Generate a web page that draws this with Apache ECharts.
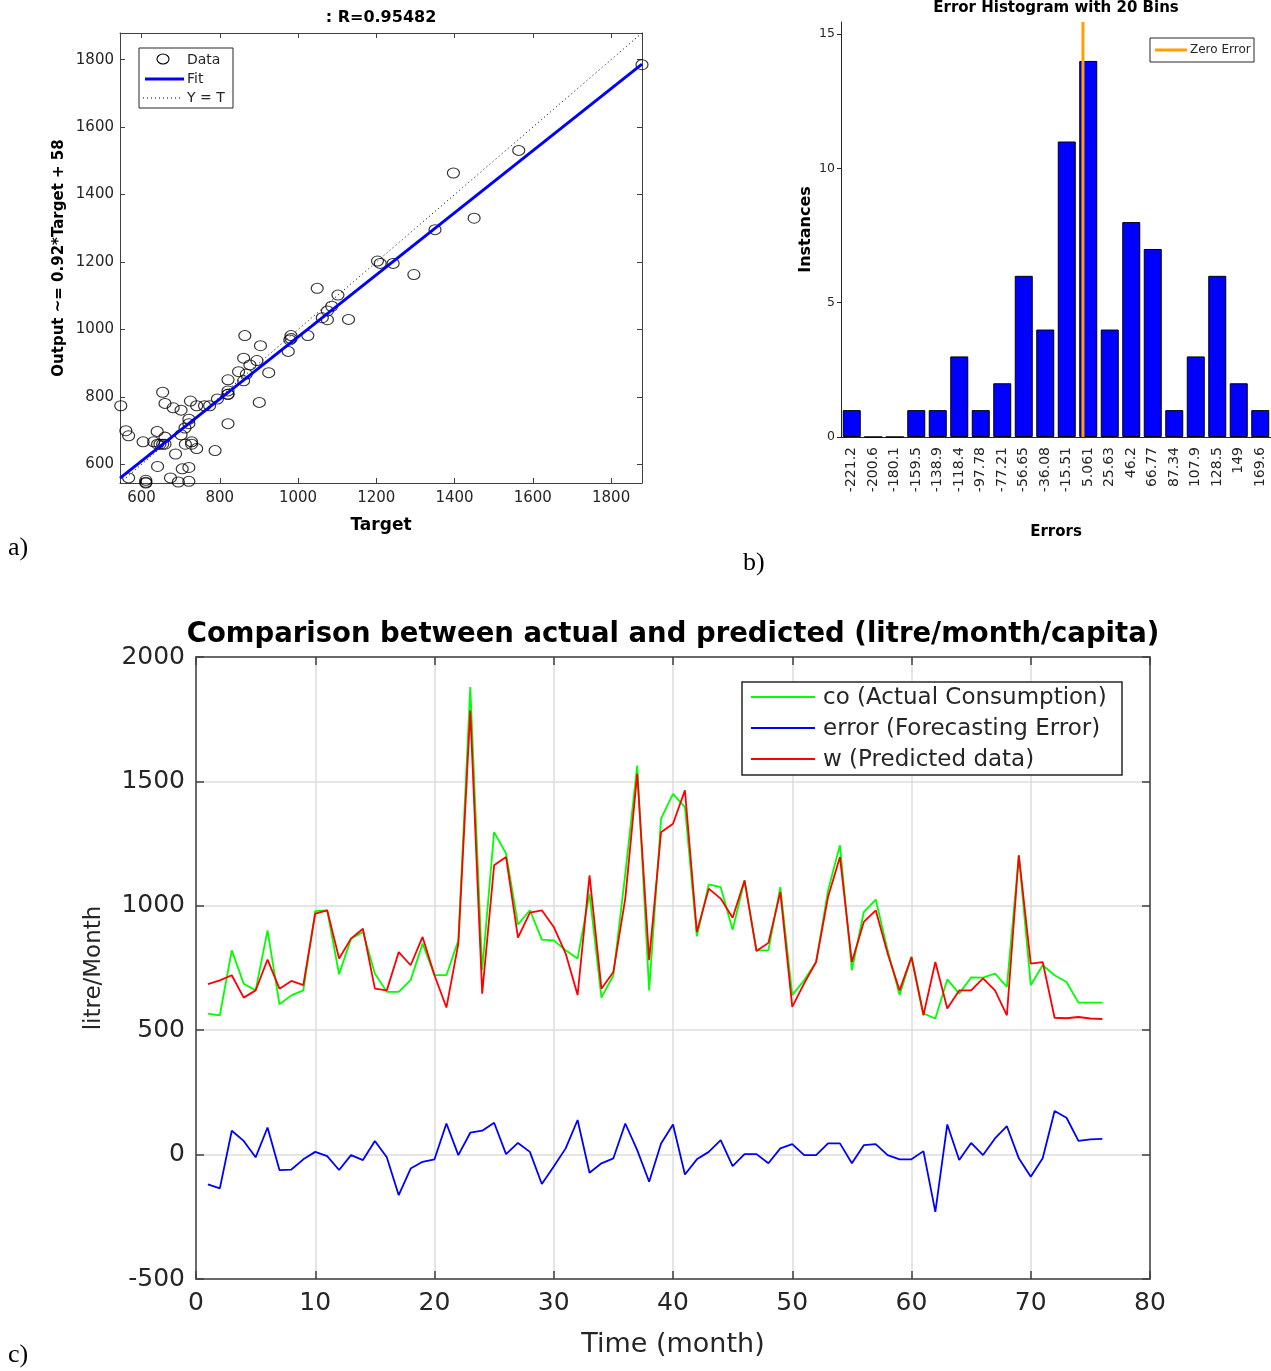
<!DOCTYPE html>
<html>
<head>
<meta charset="utf-8">
<title>Water consumption forecasting</title>
<script src="https://cdn.jsdelivr.net/npm/echarts@6/dist/echarts.min.js"></script>
<style>
  html, body { margin: 0; padding: 0; background: #fff; }
  #chart { width: 1271px; height: 1371px; }
</style>
</head>
<body>
<div id="chart"></div>
<script>
// Actual monthly consumption (litre/month/capita), months 1..76
const actual = [
  567, 560, 821, 687, 660, 901, 604, 640, 660, 979,
  982, 725, 868, 895, 728, 654, 654, 701, 848, 721,
  721, 861, 1879, 741, 1296, 1210, 925, 982, 864, 861,
  821, 788, 1049, 631, 721, 1129, 1564, 660, 1350, 1450,
  1397, 877, 1086, 1075, 904, 1102, 821, 821, 1075, 641,
  701, 774, 1062, 1243, 741, 975, 1025, 821, 641, 794,
  567, 547, 704, 647, 712, 711, 728, 674, 1203, 681,
  761, 721, 694, 611, 611, 611
];

// Network output for the same months
const predicted = [
  685, 700, 721, 631, 660, 784, 667, 698, 681, 969,
  982, 788, 868, 908, 667, 660, 814, 761, 875, 721,
  591, 848, 1785, 647, 1163, 1196, 872, 973, 982, 915,
  808, 641, 1122, 667, 734, 1030, 1531, 781, 1296, 1330,
  1464, 895, 1069, 1029, 952, 1102, 818, 851, 1055, 594,
  688, 774, 1035, 1196, 774, 935, 982, 808, 660, 794,
  560, 774, 587, 660, 660, 708, 660, 560, 1203, 768,
  774, 550, 548, 553, 547, 545
];

// Forecasting error per month
const forecastError = [
  -120, -136, 96, 55, -11, 109, -62, -60, -19, 11,
  -6, -62, -2, -22, 55, -11, -163, -56, -29, -19,
  125, -2, 88, 96, 128, 2, 47, 11, -118, -48,
  25, 139, -73, -35, -15, 125, 18, -109, 45, 121,
  -80, -19, 11, 58, -46, 2, 2, -35, 25, 42,
  -2, -2, 45, 45, -35, 38, 42, -2, -19, -19,
  14, -230, 121, -22, 47, -2, 65, 114, -15, -89,
  -15, 175, 148, 55, 61, 63
];

// Error histogram: bin centre labels and counts
const binLabels = [
  '-221.2', '-200.6', '-180.1', '-159.5', '-138.9', '-118.4', '-97.78', '-77.21', '-56.65', '-36.08',
  '-15.51', '5.061', '25.63', '46.2', '66.77', '87.34', '107.9', '128.5', '149', '169.6'
];
const binCounts = [1, 0, 0, 1, 1, 3, 1, 2, 6, 4, 11, 14, 4, 8, 7, 1, 3, 6, 2, 1];
const histTicks = [0, 5, 10, 15];

// Regression plot
const regressionTicks = [600, 800, 1000, 1200, 1400, 1600, 1800];
const fitSlope = 0.92;
const fitIntercept = 58;
const rValue = '0.95482';

const FONT = 'DejaVu Sans';
const INK = '#262626';
const AXIS = '#404040';

const months = actual.map((_, i) => i + 1);
const allValues = actual.concat(predicted);
const lim = [Math.min(...allValues), Math.max(...allValues)];
const binCenters = binLabels.map(Number);
const binWidth = (binCenters[binCenters.length - 1] - binCenters[0]) / (binCenters.length - 1);
const histTop = 15.45;

const plain = (v) => String(v);
const tickLabel = (size) => ({ fontFamily: FONT, fontSize: size, color: INK, formatter: plain });
const boldName = (size) => ({ fontFamily: FONT, fontSize: size, fontWeight: 'bold', color: '#000' });

function boxSide(base, position, tickValues, tickLen) {
  return Object.assign({
    position: position,
    axisLine: { show: true, onZero: false, lineStyle: { color: AXIS, width: 1 } },
    axisTick: { show: true, inside: true, length: tickLen, customValues: tickValues, lineStyle: { color: AXIS } },
    axisLabel: { show: false },
    splitLine: { show: false }
  }, base);
}

const chart = echarts.init(document.getElementById('chart'), null, { renderer: 'canvas' });

const option = {
  animation: false,
  backgroundColor: '#ffffff',
  grid: [
    { left: 120, top: 33, width: 522, height: 450 },
    { left: 841, top: 22, width: 430, height: 415 },
    { left: 196, top: 657, width: 954, height: 622 }
  ],
  xAxis: [
    {
      type: 'value', gridIndex: 0, position: 'bottom', min: lim[0], max: lim[1],
      axisLine: { show: true, onZero: false, lineStyle: { color: AXIS, width: 1 } },
      axisTick: { show: true, inside: true, length: 5, customValues: regressionTicks, lineStyle: { color: AXIS } },
      axisLabel: { customValues: regressionTicks, margin: 8, ...tickLabel(15) },
      splitLine: { show: false },
      name: 'Target', nameLocation: 'middle', nameGap: 34, nameTextStyle: boldName(17)
    },
    boxSide({ type: 'value', gridIndex: 0, min: lim[0], max: lim[1] }, 'top', regressionTicks, 5),
    {
      type: 'category', gridIndex: 1, data: binLabels,
      axisLine: { show: true, onZero: false, lineStyle: { color: INK, width: 1 } },
      axisTick: { show: false },
      axisLabel: { rotate: 90, interval: 0, margin: 10, fontFamily: FONT, fontSize: 14, color: INK },
      name: 'Errors', nameLocation: 'middle', nameGap: 88, nameTextStyle: boldName(15)
    },
    {
      type: 'value', gridIndex: 1, show: false,
      min: binCenters[0] - binWidth / 2, max: binCenters[binCenters.length - 1] + binWidth / 2
    },
    {
      type: 'value', gridIndex: 2, position: 'bottom', min: 0, max: 80, interval: 10,
      axisLine: { show: true, onZero: false, lineStyle: { color: AXIS, width: 1.5 } },
      axisTick: { show: true, inside: true, length: 8, lineStyle: { color: AXIS, width: 1.5 } },
      axisLabel: { margin: 12, ...tickLabel(25) },
      splitLine: { show: true, lineStyle: { color: '#dcdcdc', width: 1.5 } },
      name: 'Time (month)', nameLocation: 'middle', nameGap: 52,
      nameTextStyle: { fontFamily: FONT, fontSize: 27, color: INK }
    },
    {
      type: 'value', gridIndex: 2, position: 'top', min: 0, max: 80, interval: 10,
      axisLine: { show: true, onZero: false, lineStyle: { color: AXIS, width: 1.5 } },
      axisTick: { show: true, inside: true, length: 8, lineStyle: { color: AXIS, width: 1.5 } },
      axisLabel: { show: false }, splitLine: { show: false }
    }
  ],
  yAxis: [
    {
      type: 'value', gridIndex: 0, position: 'left', min: lim[0], max: lim[1],
      axisLine: { show: true, onZero: false, lineStyle: { color: AXIS, width: 1 } },
      axisTick: { show: true, inside: true, length: 5, customValues: regressionTicks, lineStyle: { color: AXIS } },
      axisLabel: { customValues: regressionTicks, margin: 6, ...tickLabel(15) },
      splitLine: { show: false },
      name: 'Output ~= ' + fitSlope + '*Target + ' + fitIntercept,
      nameLocation: 'middle', nameGap: 53, nameTextStyle: boldName(15)
    },
    boxSide({ type: 'value', gridIndex: 0, min: lim[0], max: lim[1] }, 'right', regressionTicks, 5),
    {
      type: 'value', gridIndex: 1, min: 0, max: histTop,
      axisLine: { show: true, onZero: false, lineStyle: { color: INK, width: 1 } },
      axisTick: { show: true, inside: false, length: 4, customValues: histTicks, lineStyle: { color: INK } },
      axisLabel: { customValues: histTicks, margin: 6, ...tickLabel(12.5) },
      splitLine: { show: false },
      name: 'Instances', nameLocation: 'middle', nameGap: 27, nameTextStyle: boldName(16)
    },
    {
      type: 'value', gridIndex: 2, position: 'left', min: -500, max: 2000, interval: 500,
      axisLine: { show: true, onZero: false, lineStyle: { color: AXIS, width: 1.5 } },
      axisTick: { show: true, inside: true, length: 8, lineStyle: { color: AXIS, width: 1.5 } },
      axisLabel: { margin: 11, ...tickLabel(25) },
      splitLine: { show: true, lineStyle: { color: '#dcdcdc', width: 1.5 } },
      name: 'litre/Month', nameLocation: 'middle', nameGap: 90,
      nameTextStyle: { fontFamily: FONT, fontSize: 23, color: INK }
    },
    {
      type: 'value', gridIndex: 2, position: 'right', min: -500, max: 2000, interval: 500,
      axisLine: { show: true, onZero: false, lineStyle: { color: AXIS, width: 1.5 } },
      axisTick: { show: true, inside: true, length: 8, lineStyle: { color: AXIS, width: 1.5 } },
      axisLabel: { show: false }, splitLine: { show: false }
    }
  ],
  series: [
    {
      type: 'scatter', name: 'Data', xAxisIndex: 0, yAxisIndex: 0,
      data: actual.map((a, i) => [a, predicted[i]]),
      symbol: 'circle', symbolSize: [12, 10], clip: false,
      itemStyle: { color: 'rgba(0,0,0,0)', borderColor: '#000', borderWidth: 1.1 },
      z: 2, silent: true
    },
    {
      type: 'line', name: 'Fit', xAxisIndex: 0, yAxisIndex: 0,
      data: lim.map(t => [t, fitSlope * t + fitIntercept]),
      symbol: 'none', lineStyle: { color: '#0000ff', width: 3 }, z: 3
    },
    {
      type: 'line', name: 'Y = T', xAxisIndex: 0, yAxisIndex: 0,
      data: lim.map(t => [t, t]),
      symbol: 'none', lineStyle: { color: '#000', width: 1, type: [1, 3] }, z: 3
    },
    {
      type: 'bar', name: 'Instances', xAxisIndex: 2, yAxisIndex: 2,
      data: binCounts, barWidth: 18,
      itemStyle: { color: '#0000ff', borderColor: '#000', borderWidth: 1 }
    },
    {
      type: 'line', name: 'Zero Error', xAxisIndex: 3, yAxisIndex: 2,
      data: [[0, 0], [0, histTop]],
      symbol: 'none', lineStyle: { color: '#ff9f00', width: 3 }, z: 5
    },
    {
      type: 'line', name: 'co (Actual Consumption)', xAxisIndex: 4, yAxisIndex: 3,
      data: months.map((m, i) => [m, actual[i]]),
      symbol: 'none', lineStyle: { color: '#00ff00', width: 1.8 }
    },
    {
      type: 'line', name: 'error (Forecasting Error)', xAxisIndex: 4, yAxisIndex: 3,
      data: months.map((m, i) => [m, forecastError[i]]),
      symbol: 'none', lineStyle: { color: '#0000ff', width: 1.8 }
    },
    {
      type: 'line', name: 'w (Predicted data)', xAxisIndex: 4, yAxisIndex: 3,
      data: months.map((m, i) => [m, predicted[i]]),
      symbol: 'none', lineStyle: { color: '#ff0000', width: 1.8 }
    }
  ],
  graphic: [
    // titles
    { type: 'text', x: 381, y: 18, z: 10, style: { text: ': R=' + rValue, font: 'bold 16px "DejaVu Sans"', fill: '#000', align: 'center', verticalAlign: 'middle' } },
    { type: 'text', x: 1056, y: 8, z: 10, style: { text: 'Error Histogram with ' + binLabels.length + ' Bins', font: 'bold 15px "DejaVu Sans"', fill: '#000', align: 'center', verticalAlign: 'middle' } },
    { type: 'text', x: 673, y: 635, z: 10, style: { text: 'Comparison between actual and predicted (litre/month/capita)', font: 'bold 27.5px "DejaVu Sans"', fill: '#000', align: 'center', verticalAlign: 'middle' } },

    // panel letters
    { type: 'text', x: 8, y: 548, z: 10, style: { text: 'a)', font: '26px "Liberation Serif"', fill: '#000', align: 'left', verticalAlign: 'middle' } },
    { type: 'text', x: 743, y: 563, z: 10, style: { text: 'b)', font: '26px "Liberation Serif"', fill: '#000', align: 'left', verticalAlign: 'middle' } },
    { type: 'text', x: 8, y: 1355, z: 10, style: { text: 'c)', font: '26px "Liberation Serif"', fill: '#000', align: 'left', verticalAlign: 'middle' } },

    // regression legend
    { type: 'rect', z: 10, shape: { x: 139, y: 48, width: 94, height: 60 }, style: { fill: '#fff', stroke: INK, lineWidth: 1 } },
    { type: 'ellipse', z: 11, shape: { cx: 163, cy: 59, rx: 6, ry: 5 }, style: { fill: 'none', stroke: '#000', lineWidth: 1.1 } },
    { type: 'text', z: 11, x: 187, y: 60, style: { text: 'Data', font: '14px "DejaVu Sans"', fill: INK, align: 'left', verticalAlign: 'middle' } },
    { type: 'line', z: 11, shape: { x1: 145, y1: 79, x2: 184, y2: 79 }, style: { stroke: '#0000ff', lineWidth: 3 } },
    { type: 'text', z: 11, x: 187, y: 79, style: { text: 'Fit', font: '14px "DejaVu Sans"', fill: INK, align: 'left', verticalAlign: 'middle' } },
    { type: 'line', z: 11, shape: { x1: 143, y1: 98, x2: 183, y2: 98 }, style: { stroke: '#000', lineWidth: 1, lineDash: [1, 3] } },
    { type: 'text', z: 11, x: 187, y: 98, style: { text: 'Y = T', font: '14px "DejaVu Sans"', fill: INK, align: 'left', verticalAlign: 'middle' } },

    // histogram legend
    { type: 'rect', z: 10, shape: { x: 1150, y: 38, width: 104, height: 24 }, style: { fill: '#fff', stroke: INK, lineWidth: 1 } },
    { type: 'line', z: 11, shape: { x1: 1155, y1: 50, x2: 1187, y2: 50 }, style: { stroke: '#ff9f00', lineWidth: 3 } },
    { type: 'text', z: 11, x: 1190, y: 50, style: { text: 'Zero Error', font: '12px "DejaVu Sans"', fill: INK, align: 'left', verticalAlign: 'middle' } },

    // time-series legend
    { type: 'rect', z: 10, shape: { x: 742, y: 682, width: 380, height: 93 }, style: { fill: '#fff', stroke: INK, lineWidth: 1.5 } },
    { type: 'line', z: 11, shape: { x1: 751, y1: 697, x2: 815, y2: 697 }, style: { stroke: '#00ff00', lineWidth: 1.8 } },
    { type: 'text', z: 11, x: 823, y: 698, style: { text: 'co (Actual Consumption)', font: '23px "DejaVu Sans"', fill: INK, align: 'left', verticalAlign: 'middle' } },
    { type: 'line', z: 11, shape: { x1: 751, y1: 728, x2: 815, y2: 728 }, style: { stroke: '#0000ff', lineWidth: 1.8 } },
    { type: 'text', z: 11, x: 823, y: 729, style: { text: 'error (Forecasting Error)', font: '23px "DejaVu Sans"', fill: INK, align: 'left', verticalAlign: 'middle' } },
    { type: 'line', z: 11, shape: { x1: 751, y1: 759, x2: 815, y2: 759 }, style: { stroke: '#ff0000', lineWidth: 1.8 } },
    { type: 'text', z: 11, x: 823, y: 760, style: { text: 'w (Predicted data)', font: '23px "DejaVu Sans"', fill: INK, align: 'left', verticalAlign: 'middle' } }
  ]
};

chart.setOption(option);
</script>
</body>
</html>
